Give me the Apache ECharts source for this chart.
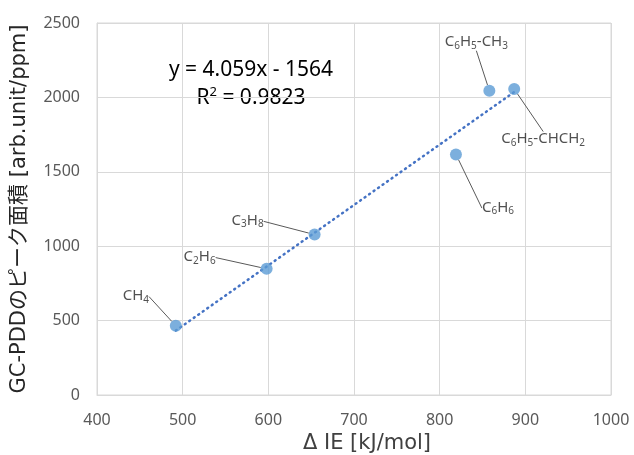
<!DOCTYPE html>
<html>
<head>
<meta charset="utf-8">
<script src="https://cdn.jsdelivr.net/npm/echarts@6/dist/echarts.min.js"></script>
<style>html,body{margin:0;padding:0;background:#fff}#c{width:634px;height:455px}</style>
</head>
<body>
<div id="c"></div>
<script>
// ---- data ----
const names = ['CH4', 'C2H6', 'C3H8', 'C6H6', 'C6H5-CH3', 'C6H5-CHCH2'];
const labelsRich = ['CH{s|4}', 'C{s|2}H{s|6}', 'C{s|3}H{s|8}', 'C{s|6}H{s|6}', 'C{s|6}H{s|5}-CH{s|3}', 'C{s|6}H{s|5}-CHCH{s|2}'];
const deltaIE = [492, 598, 654, 819, 858, 887];
const peakArea = [465, 848, 1078, 1617, 2045, 2056];
const trendX = [492, 887];
const trendY = [433, 2036];
const xTicks = [400, 500, 600, 700, 800, 900, 1000];
const yTicks = [0, 500, 1000, 1500, 2000, 2500];
const eqLine1 = 'y = 4.059x - 1564';
const eqLine2 = 'R{sup|2} = 0.9823';
const xTitle = 'Δ IE [kJ/mol]';
const yTitle = 'GC-PDDのピーク面積 [arb.unit/ppm]';

// label offsets (presentation)
const labelOffsets = [[-40, -30], [-67, -12], [-67, -14], [42, 53], [-13, -49], [29, 50]];

const font = '"Noto Sans", "Noto Sans CJK JP", sans-serif';
const wideFont = '"DejaVu Sans", "Noto Sans CJK JP", sans-serif';
const chart = echarts.init(document.getElementById('c'));
chart.setOption({
  animation: false,
  grid: { left: 97, right: 23, top: 23, bottom: 60, show: true, borderColor: '#d9d9d9', borderWidth: 1,
          containLabel: false, outerBoundsMode: 'none' },
  xAxis: {
    type: 'value', min: xTicks[0], max: xTicks[xTicks.length - 1], interval: 100,
    name: xTitle, nameLocation: 'middle', nameGap: 36,
    nameTextStyle: { fontSize: 21, color: '#404040', fontFamily: wideFont, padding: [0, 0, 0, 26] },
    axisLine: { show: true, lineStyle: { color: '#d9d9d9' } },
    axisTick: { show: false },
    axisLabel: { color: '#595959', fontSize: 16, margin: 17, fontFamily: font, formatter: v => String(v) },
    splitLine: { show: true, lineStyle: { color: '#d9d9d9', width: 1 } }
  },
  yAxis: {
    type: 'value', min: yTicks[0], max: yTicks[yTicks.length - 1], interval: 500,
    name: yTitle, nameLocation: 'middle', nameGap: 67,
    nameTextStyle: { fontSize: 21, color: '#262626', fontFamily: wideFont },
    axisLine: { show: true, lineStyle: { color: '#d9d9d9' } },
    axisTick: { show: false },
    axisLabel: { color: '#595959', fontSize: 16, margin: 17, fontFamily: font, formatter: v => String(v) },
    splitLine: { show: true, lineStyle: { color: '#d9d9d9', width: 1 } }
  },
  graphic: [{
    type: 'text', x: 251, y: 56,
    style: {
      text: eqLine1 + '\n' + eqLine2,
      align: 'center', verticalAlign: 'top',
      fill: '#000', font: '21px ' + font, lineHeight: 28,
      rich: { sup: { fontSize: 13, fill: '#000', fontFamily: font, padding: [0, 0, 11, 0] } }
    }
  }],
  series: [
    {
      type: 'line', data: trendX.map((x, i) => [x, trendY[i]]),
      showSymbol: false, symbol: 'none',
      lineStyle: { color: '#4472C4', width: 2.5, type: [1, 4.5], cap: 'round' },
      z: 2
    },
    {
      type: 'scatter', data: deltaIE.map((x, i) => [x, peakArea[i]]),
      symbolSize: 12, itemStyle: { color: '#5B9BD5' }, z: 3,
      label: {
        show: true, position: 'inside',
        formatter: p => labelsRich[p.dataIndex],
        color: '#262626', fontSize: 15, fontFamily: font,
        rich: { s: { fontSize: 10, color: '#262626', fontFamily: font, padding: [8, 0, 0, 0] } }
      },
      labelLine: { show: true, lineStyle: { color: '#595959', width: 1 } },
      labelLayout: p => ({ dx: labelOffsets[p.dataIndex][0], dy: labelOffsets[p.dataIndex][1] })
    }
  ]
});
</script>
</body>
</html>
